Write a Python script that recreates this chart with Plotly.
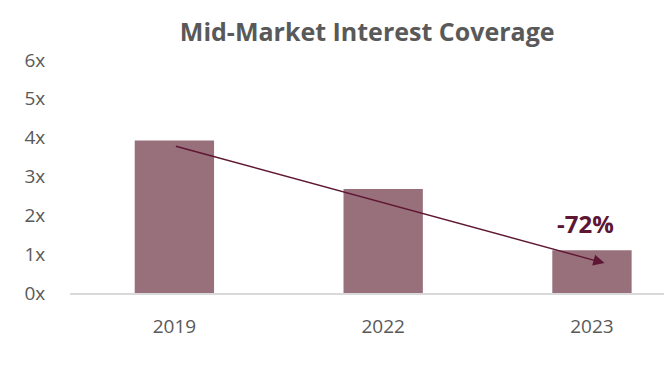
import plotly.graph_objects as go

categories = ["2019", "2022", "2023"]
coverage = [3.93, 2.68, 1.1]
y_ticks = [0, 1, 2, 3, 4, 5, 6]
y_tick_labels = ["0x", "1x", "2x", "3x", "4x", "5x", "6x"]
change_label = "-72%"

fig = go.Figure()
fig.add_trace(go.Bar(
    x=[0, 1, 2], y=coverage, width=0.38,
    marker=dict(color="#98707c", line=dict(width=0)),
    hoverinfo="skip",
))

fig.add_annotation(
    x=2.06, y=0.77, ax=0, ay=3.79,
    xref="x", yref="y", axref="x", ayref="y",
    showarrow=True, arrowhead=2, arrowsize=1.6, arrowwidth=1.4,
    arrowcolor="#5e1633", text="",
)
fig.add_annotation(
    x=1.97, y=1.78, xref="x", yref="y", text="<b>" + change_label + "</b>",
    showarrow=False, font=dict(size=24, color="#5e1633", family="Open Sans"),
)

fig.update_layout(
    width=664, height=384,
    margin=dict(l=70, r=0, t=60, b=91),
    paper_bgcolor="white", plot_bgcolor="white",
    showlegend=False,
    title=dict(text="<b>Mid-Market Interest Coverage</b>", x=0.553, xanchor="center",
               y=0.915, yanchor="middle",
               font=dict(size=25, color="#595959", family="Open Sans")),
    font=dict(family="Open Sans", color="#595959"),
)
fig.update_xaxes(
    range=[-0.5, 2.345], tickvals=[0, 1, 2], ticktext=categories,
    showgrid=False, zeroline=False, showline=True, linecolor="#d9d9d9", linewidth=2,
    ticks="outside", ticklen=15, tickcolor="rgba(0,0,0,0)",
    tickfont=dict(size=19, color="#595959"),
)
fig.update_yaxes(
    range=[0, 6], tickvals=y_ticks, ticktext=y_tick_labels,
    showgrid=False, zeroline=False, showline=False,
    ticks="outside", ticklen=20, tickcolor="rgba(0,0,0,0)",
    tickfont=dict(size=19, color="#595959"),
)

fig.write_html("out.html", config={"displayModeBar": False},
               post_script="document.body.style.margin='0';")
